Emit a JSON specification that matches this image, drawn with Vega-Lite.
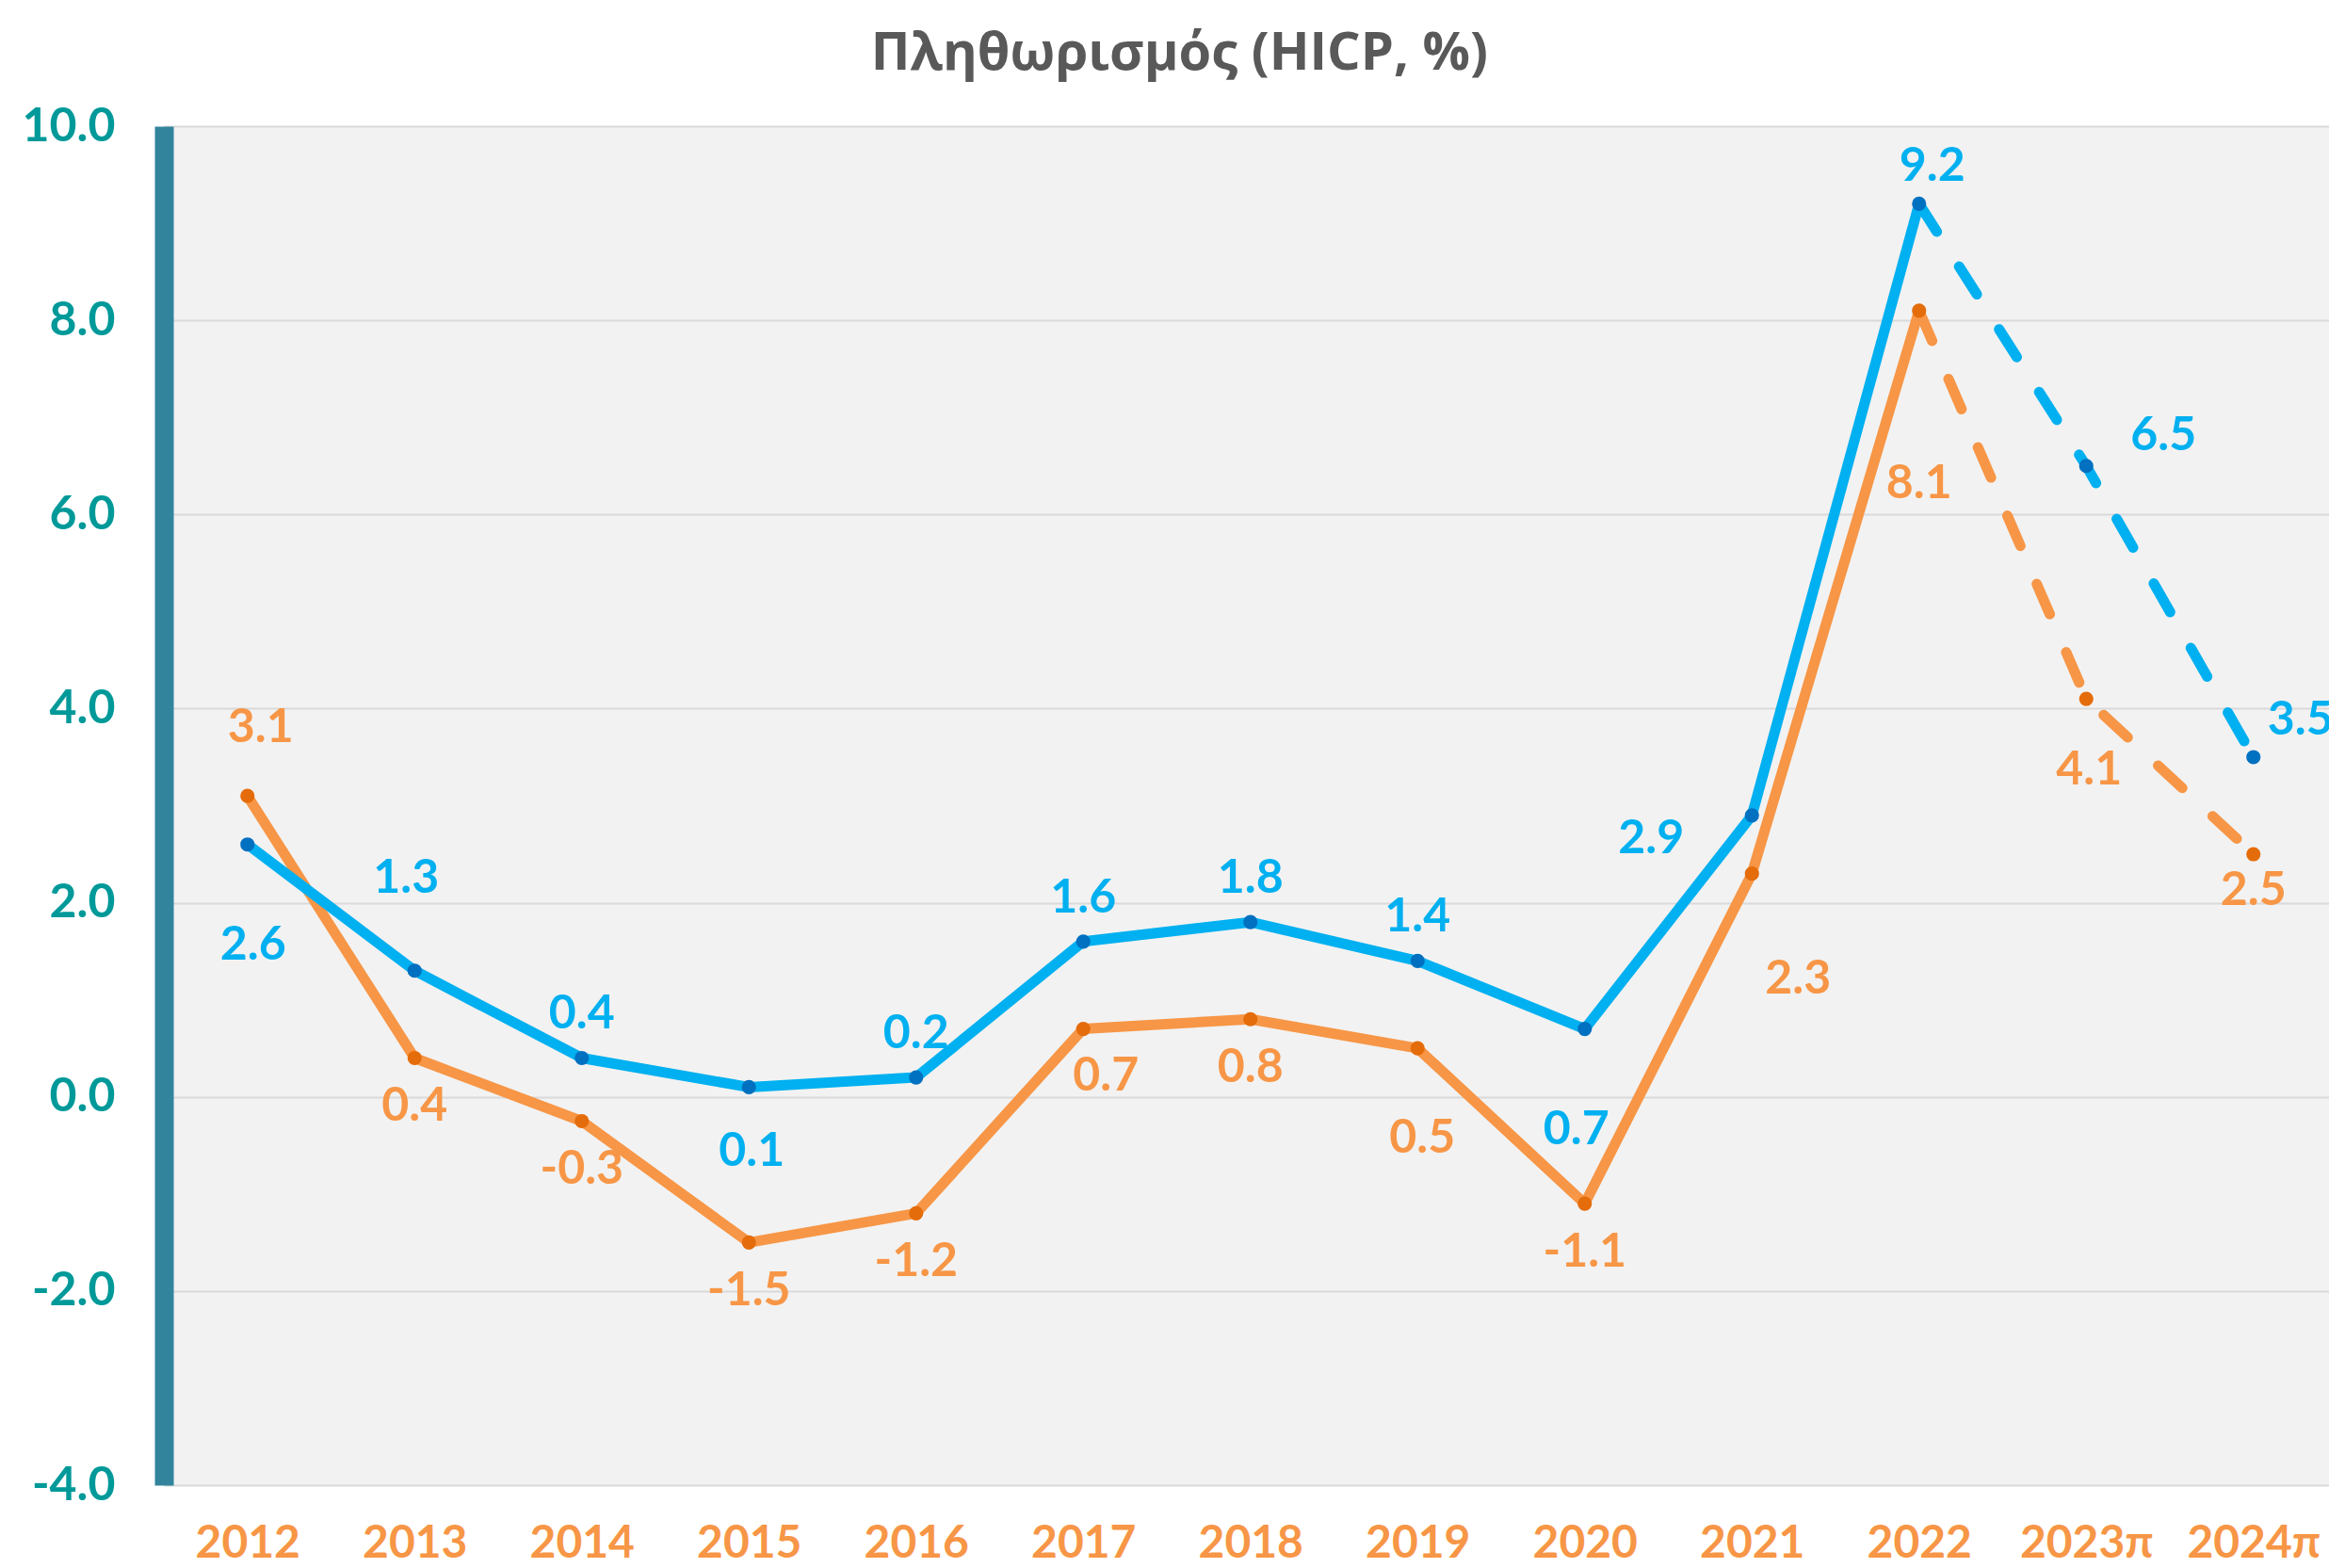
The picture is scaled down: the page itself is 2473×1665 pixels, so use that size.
{
  "$schema": "https://vega.github.io/schema/vega-lite/v6.json",
  "autosize": "none",
  "padding": {"left": 174, "top": 134, "right": 0, "bottom": 88},
  "width": 2307.5,
  "height": 1443,
  "background": "white",
  "config": {
    "view": {"fill": "#f2f2f2", "stroke": null},
    "font": "Lato",
    "locale": {"number": {"decimal": ".", "thousands": ",", "grouping": [3], "currency": ["", ""], "minus": "-"}}
  },
  "title": {
    "text": "Πληθωρισμός (HICP, %)",
    "font": "Open Sans",
    "fontSize": 56,
    "fontWeight": "bold",
    "color": "#595959",
    "anchor": "middle",
    "frame": "bounds",
    "baseline": "alphabetic",
    "offset": 26,
    "dy": 47
  },
  "data": {
    "values": [
      {"year": "2012", "series": "ΕΕ", "value": 2.6},
      {"year": "2013", "series": "ΕΕ", "value": 1.3},
      {"year": "2014", "series": "ΕΕ", "value": 0.4},
      {"year": "2015", "series": "ΕΕ", "value": 0.1},
      {"year": "2016", "series": "ΕΕ", "value": 0.2},
      {"year": "2017", "series": "ΕΕ", "value": 1.6},
      {"year": "2018", "series": "ΕΕ", "value": 1.8},
      {"year": "2019", "series": "ΕΕ", "value": 1.4},
      {"year": "2020", "series": "ΕΕ", "value": 0.7},
      {"year": "2021", "series": "ΕΕ", "value": 2.9},
      {"year": "2022", "series": "ΕΕ", "value": 9.2},
      {"year": "2023π", "series": "ΕΕ", "value": 6.5},
      {"year": "2024π", "series": "ΕΕ", "value": 3.5},
      {"year": "2012", "series": "Κύπρος", "value": 3.1},
      {"year": "2013", "series": "Κύπρος", "value": 0.4},
      {"year": "2014", "series": "Κύπρος", "value": -0.25},
      {"year": "2015", "series": "Κύπρος", "value": -1.5},
      {"year": "2016", "series": "Κύπρος", "value": -1.2},
      {"year": "2017", "series": "Κύπρος", "value": 0.7},
      {"year": "2018", "series": "Κύπρος", "value": 0.8},
      {"year": "2019", "series": "Κύπρος", "value": 0.5},
      {"year": "2020", "series": "Κύπρος", "value": -1.1},
      {"year": "2021", "series": "Κύπρος", "value": 2.3},
      {"year": "2022", "series": "Κύπρος", "value": 8.1},
      {"year": "2023π", "series": "Κύπρος", "value": 4.1},
      {"year": "2024π", "series": "Κύπρος", "value": 2.5}
    ]
  },
  "encoding": {
    "x": {
      "field": "year", "type": "ordinal", "sort": null,
      "scale": {"type": "point", "padding": 0.5},
      "axis": {"title": null, "ticks": false, "tickSize": 0, "domain": false, "grid": false, "labelAngle": 0,
               "labelFont": "Lato", "labelFontSize": 48, "labelFontWeight": "bold", "labelColor": "#f79646", "labelPadding": 38}
    },
    "y": {
      "field": "value", "type": "quantitative",
      "scale": {"domain": [-4, 10], "nice": false, "zero": false},
      "axis": {"title": null, "values": [-4, -2, 0, 2, 4, 6, 8, 10], "format": ".1f", "ticks": false, "tickSize": 0,
               "domainColor": "#31849b", "domainWidth": 20, "gridColor": "#d9d9d9", "gridWidth": 2,
               "labelFont": "Lato", "labelFontSize": 50, "labelFontWeight": "bold", "labelColor": "#009999", "labelPadding": 52}
    }
  },
  "layer": [
    {
      "transform": [{"filter": "datum.series == 'Κύπρος' && indexof(['2023π','2024π'], datum.year) < 0"}],
      "mark": {"type": "line", "color": "#f79646", "strokeWidth": 11, "strokeCap": "round", "strokeJoin": "round"},
      "encoding": {}
    },
    {
      "transform": [{"filter": "datum.series == 'Κύπρος' && indexof(['2022','2023π','2024π'], datum.year) >= 0"}],
      "mark": {"type": "line", "color": "#f79646", "strokeWidth": 11, "strokeCap": "round", "strokeDash": [35, 44]},
      "encoding": {}
    },
    {
      "transform": [{"filter": "datum.series == 'ΕΕ' && indexof(['2023π','2024π'], datum.year) < 0"}],
      "mark": {"type": "line", "color": "#00b0f0", "strokeWidth": 11, "strokeCap": "round", "strokeJoin": "round"},
      "encoding": {}
    },
    {
      "transform": [{"filter": "datum.series == 'ΕΕ' && indexof(['2022','2023π','2024π'], datum.year) >= 0"}],
      "mark": {"type": "line", "color": "#00b0f0", "strokeWidth": 11, "strokeCap": "round", "strokeDash": [35, 44]},
      "encoding": {}
    },
    {
      "mark": {"type": "circle", "size": 230, "opacity": 1},
      "encoding": {
        "fill": {"field": "series", "type": "nominal", "scale": {"domain": ["ΕΕ", "Κύπρος"], "range": ["#0070c0", "#e46c0a"]}, "legend": null}
      }
    },
    {
      "encoding": {
        "text": {"field": "value", "type": "quantitative", "format": ".1f"},
        "color": {"field": "series", "type": "nominal", "scale": {"domain": ["ΕΕ", "Κύπρος"], "range": ["#00b0f0", "#f79646"]}, "legend": null}
      },
      "layer": [
        {"transform": [{"filter": "datum.series == 'ΕΕ' && indexof(['2014','2016','2017','2018','2019'], datum.year) >= 0"}],
         "mark": {"type": "text", "font": "Lato", "fontSize": 50, "fontWeight": "bold", "align": "center", "baseline": "middle", "dx": 0, "dy": -46}},
        {"transform": [{"filter": "datum.series == 'Κύπρος' && indexof(['2013','2014','2015','2016','2018','2020'], datum.year) >= 0"}],
         "mark": {"type": "text", "font": "Lato", "fontSize": 50, "fontWeight": "bold", "align": "center", "baseline": "middle", "dx": 0, "dy": 52}},
        {"transform": [{"filter": "datum.series == 'ΕΕ' && datum.year == '2012'"}],
         "mark": {"type": "text", "font": "Lato", "fontSize": 50, "fontWeight": "bold", "align": "center", "baseline": "middle", "dx": 6, "dy": 107}},
        {"transform": [{"filter": "datum.series == 'ΕΕ' && datum.year == '2020'"}],
         "mark": {"type": "text", "font": "Lato", "fontSize": 50, "fontWeight": "bold", "align": "center", "baseline": "middle", "dx": -9, "dy": 107}},
        {"transform": [{"filter": "datum.series == 'ΕΕ' && datum.year == '2013'"}],
         "mark": {"type": "text", "font": "Lato", "fontSize": 50, "fontWeight": "bold", "align": "center", "baseline": "middle", "dx": -9, "dy": -98}},
        {"transform": [{"filter": "datum.series == 'ΕΕ' && datum.year == '2015'"}],
         "mark": {"type": "text", "font": "Lato", "fontSize": 50, "fontWeight": "bold", "align": "center", "baseline": "middle", "dx": 3, "dy": 69}},
        {"transform": [{"filter": "datum.series == 'ΕΕ' && datum.year == '2021'"}],
         "mark": {"type": "text", "font": "Lato", "fontSize": 50, "fontWeight": "bold", "align": "center", "baseline": "middle", "dx": -107, "dy": 25}},
        {"transform": [{"filter": "datum.series == 'ΕΕ' && datum.year == '2022'"}],
         "mark": {"type": "text", "font": "Lato", "fontSize": 50, "fontWeight": "bold", "align": "center", "baseline": "middle", "dx": 14, "dy": -39}},
        {"transform": [{"filter": "datum.series == 'ΕΕ' && datum.year == '2023π'"}],
         "mark": {"type": "text", "font": "Lato", "fontSize": 50, "fontWeight": "bold", "align": "center", "baseline": "middle", "dx": 82, "dy": -32}},
        {"transform": [{"filter": "datum.series == 'ΕΕ' && datum.year == '2024π'"}],
         "mark": {"type": "text", "font": "Lato", "fontSize": 50, "fontWeight": "bold", "align": "center", "baseline": "middle", "dx": 50, "dy": -39}},
        {"transform": [{"filter": "datum.series == 'Κύπρος' && datum.year == '2012'"}],
         "mark": {"type": "text", "font": "Lato", "fontSize": 50, "fontWeight": "bold", "align": "center", "baseline": "middle", "dx": 14, "dy": -72}},
        {"transform": [{"filter": "datum.series == 'Κύπρος' && datum.year == '2017'"}],
         "mark": {"type": "text", "font": "Lato", "fontSize": 50, "fontWeight": "bold", "align": "center", "baseline": "middle", "dx": 24, "dy": 50}},
        {"transform": [{"filter": "datum.series == 'Κύπρος' && datum.year == '2019'"}],
         "mark": {"type": "text", "font": "Lato", "fontSize": 50, "fontWeight": "bold", "align": "center", "baseline": "middle", "dx": 5, "dy": 96}},
        {"transform": [{"filter": "datum.series == 'Κύπρος' && datum.year == '2021'"}],
         "mark": {"type": "text", "font": "Lato", "fontSize": 50, "fontWeight": "bold", "align": "center", "baseline": "middle", "dx": 49, "dy": 112}},
        {"transform": [{"filter": "datum.series == 'Κύπρος' && datum.year == '2022'"}],
         "mark": {"type": "text", "font": "Lato", "fontSize": 50, "fontWeight": "bold", "align": "center", "baseline": "middle", "dx": 0, "dy": 184}},
        {"transform": [{"filter": "datum.series == 'Κύπρος' && datum.year == '2023π'"}],
         "mark": {"type": "text", "font": "Lato", "fontSize": 50, "fontWeight": "bold", "align": "center", "baseline": "middle", "dx": 3, "dy": 76}},
        {"transform": [{"filter": "datum.series == 'Κύπρος' && datum.year == '2024π'"}],
         "mark": {"type": "text", "font": "Lato", "fontSize": 50, "fontWeight": "bold", "align": "center", "baseline": "middle", "dx": 0, "dy": 39}}
      ]
    }
  ]
}
